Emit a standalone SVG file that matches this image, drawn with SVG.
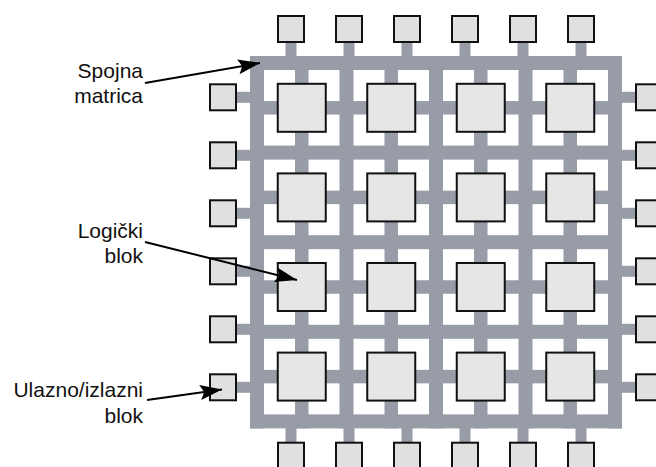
<svg xmlns="http://www.w3.org/2000/svg" width="656" height="467" viewBox="0 0 656 467">
<defs>
<style>
.w{fill:#979ca6}
.lb{fill:#e6e6e6;stroke:#111;stroke-width:2}
.io{fill:#e0e0e0;stroke:#111;stroke-width:2}
.t{font-family:"Liberation Sans",Arial,sans-serif;font-size:21px;fill:#111;text-anchor:end}
.ar{stroke:#000;stroke-width:2;fill:none;marker-end:url(#ah)}
</style>
<marker id="ah" markerUnits="userSpaceOnUse" markerWidth="24" markerHeight="16" refX="22" refY="8" orient="auto">
<path d="M0,0.5 L22,8 L0,15.5 L4,8 Z" fill="#000"/>
</marker>
</defs>
<rect width="656" height="467" fill="#fff"/>
<g id="interconnect-matrix">
<rect class="w" x="250" y="56" width="14" height="372.4"/>
<rect class="w" x="339.5" y="56" width="14" height="372.4"/>
<rect class="w" x="429" y="56" width="14" height="372.4"/>
<rect class="w" x="518.5" y="56" width="14" height="372.4"/>
<rect class="w" x="608" y="56" width="14" height="372.4"/>
<rect class="w" x="295" y="56" width="13.5" height="372.4"/>
<rect class="w" x="384.5" y="56" width="13.5" height="372.4"/>
<rect class="w" x="474" y="56" width="13.5" height="372.4"/>
<rect class="w" x="563.5" y="56" width="13.5" height="372.4"/>
<rect class="w" x="250" y="56" width="372" height="14"/>
<rect class="w" x="250" y="145.6" width="372" height="14"/>
<rect class="w" x="250" y="235.2" width="372" height="14"/>
<rect class="w" x="250" y="324.8" width="372" height="14"/>
<rect class="w" x="250" y="414.4" width="372" height="14"/>
<rect class="w" x="250" y="101.05" width="372" height="13.5"/>
<rect class="w" x="250" y="190.65" width="372" height="13.5"/>
<rect class="w" x="250" y="280.25" width="372" height="13.5"/>
<rect class="w" x="250" y="369.85" width="372" height="13.5"/>
<rect class="w" x="285.5" y="42" width="11" height="15"/>
<rect class="w" x="343.5" y="42" width="11" height="15"/>
<rect class="w" x="401.5" y="42" width="11" height="15"/>
<rect class="w" x="459.5" y="42" width="11" height="15"/>
<rect class="w" x="517.5" y="42" width="11" height="15"/>
<rect class="w" x="575.5" y="42" width="11" height="15"/>
<rect class="w" x="285.5" y="427" width="11" height="16"/>
<rect class="w" x="343.5" y="427" width="11" height="16"/>
<rect class="w" x="401.5" y="427" width="11" height="16"/>
<rect class="w" x="459.5" y="427" width="11" height="16"/>
<rect class="w" x="517.5" y="427" width="11" height="16"/>
<rect class="w" x="575.5" y="427" width="11" height="16"/>
<rect class="w" x="236" y="91.8" width="15" height="11"/>
<rect class="w" x="236" y="149.8" width="15" height="11"/>
<rect class="w" x="236" y="207.8" width="15" height="11"/>
<rect class="w" x="236" y="265.8" width="15" height="11"/>
<rect class="w" x="236" y="323.8" width="15" height="11"/>
<rect class="w" x="236" y="381.8" width="15" height="11"/>
<rect class="w" x="621" y="91.8" width="15" height="11"/>
<rect class="w" x="621" y="149.8" width="15" height="11"/>
<rect class="w" x="621" y="207.8" width="15" height="11"/>
<rect class="w" x="621" y="265.8" width="15" height="11"/>
<rect class="w" x="621" y="323.8" width="15" height="11"/>
<rect class="w" x="621" y="381.8" width="15" height="11"/>
</g>
<g id="logic-blocks">
<g id="lb-1-1"><rect class="lb" x="277.75" y="83.8" width="48" height="48"/></g>
<g id="lb-1-2"><rect class="lb" x="367.25" y="83.8" width="48" height="48"/></g>
<g id="lb-1-3"><rect class="lb" x="456.75" y="83.8" width="48" height="48"/></g>
<g id="lb-1-4"><rect class="lb" x="546.25" y="83.8" width="48" height="48"/></g>
<g id="lb-2-1"><rect class="lb" x="277.75" y="173.4" width="48" height="48"/></g>
<g id="lb-2-2"><rect class="lb" x="367.25" y="173.4" width="48" height="48"/></g>
<g id="lb-2-3"><rect class="lb" x="456.75" y="173.4" width="48" height="48"/></g>
<g id="lb-2-4"><rect class="lb" x="546.25" y="173.4" width="48" height="48"/></g>
<g id="lb-3-1"><rect class="lb" x="277.75" y="263" width="48" height="48"/></g>
<g id="lb-3-2"><rect class="lb" x="367.25" y="263" width="48" height="48"/></g>
<g id="lb-3-3"><rect class="lb" x="456.75" y="263" width="48" height="48"/></g>
<g id="lb-3-4"><rect class="lb" x="546.25" y="263" width="48" height="48"/></g>
<g id="lb-4-1"><rect class="lb" x="277.75" y="352.6" width="48" height="48"/></g>
<g id="lb-4-2"><rect class="lb" x="367.25" y="352.6" width="48" height="48"/></g>
<g id="lb-4-3"><rect class="lb" x="456.75" y="352.6" width="48" height="48"/></g>
<g id="lb-4-4"><rect class="lb" x="546.25" y="352.6" width="48" height="48"/></g>
</g>
<g id="io-blocks">
<g id="io-t1"><rect class="io" x="278" y="16" width="26" height="26"/></g>
<g id="io-t2"><rect class="io" x="336" y="16" width="26" height="26"/></g>
<g id="io-t3"><rect class="io" x="394" y="16" width="26" height="26"/></g>
<g id="io-t4"><rect class="io" x="452" y="16" width="26" height="26"/></g>
<g id="io-t5"><rect class="io" x="510" y="16" width="26" height="26"/></g>
<g id="io-t6"><rect class="io" x="568" y="16" width="26" height="26"/></g>
<g id="io-b1"><rect class="io" x="278" y="442.7" width="26" height="26"/></g>
<g id="io-b2"><rect class="io" x="336" y="442.7" width="26" height="26"/></g>
<g id="io-b3"><rect class="io" x="394" y="442.7" width="26" height="26"/></g>
<g id="io-b4"><rect class="io" x="452" y="442.7" width="26" height="26"/></g>
<g id="io-b5"><rect class="io" x="510" y="442.7" width="26" height="26"/></g>
<g id="io-b6"><rect class="io" x="568" y="442.7" width="26" height="26"/></g>
<g id="io-l1"><rect class="io" x="210" y="84.3" width="26" height="26"/></g>
<g id="io-l2"><rect class="io" x="210" y="142.3" width="26" height="26"/></g>
<g id="io-l3"><rect class="io" x="210" y="200.3" width="26" height="26"/></g>
<g id="io-l4"><rect class="io" x="210" y="258.3" width="26" height="26"/></g>
<g id="io-l5"><rect class="io" x="210" y="316.3" width="26" height="26"/></g>
<g id="io-l6"><rect class="io" x="210" y="374.3" width="26" height="26"/></g>
<g id="io-r1"><rect class="io" x="636" y="84.3" width="26" height="26"/></g>
<g id="io-r2"><rect class="io" x="636" y="142.3" width="26" height="26"/></g>
<g id="io-r3"><rect class="io" x="636" y="200.3" width="26" height="26"/></g>
<g id="io-r4"><rect class="io" x="636" y="258.3" width="26" height="26"/></g>
<g id="io-r5"><rect class="io" x="636" y="316.3" width="26" height="26"/></g>
<g id="io-r6"><rect class="io" x="636" y="374.3" width="26" height="26"/></g>
</g>
<g id="labels">
<g id="label-spojna"><text class="t" x="143" y="78">Spojna</text><text class="t" x="143" y="103">matrica</text></g>
<g id="label-logicki"><text class="t" x="143" y="237.5">Logički</text><text class="t" x="143" y="263">blok</text></g>
<g id="label-io"><text class="t" x="143" y="397">Ulazno/izlazni</text><text class="t" x="143" y="422.5">blok</text></g>
</g>
<g id="connectors">
<line class="ar" x1="145" y1="83" x2="260" y2="63"/>
<line class="ar" x1="145" y1="242" x2="297" y2="280"/>
<line class="ar" x1="147" y1="400" x2="222" y2="389.5"/>
</g>
</svg>
